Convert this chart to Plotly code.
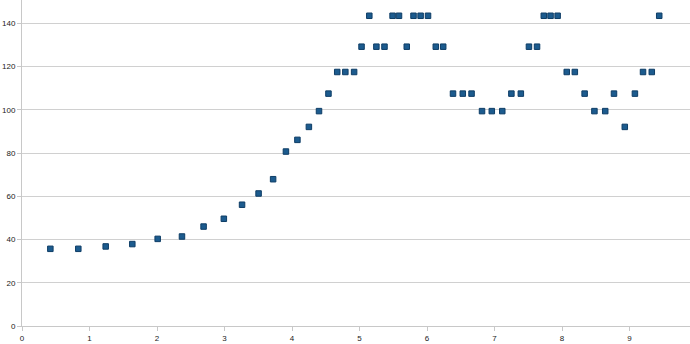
import plotly.graph_objects as go

x_vals = [0.42, 0.834, 1.24, 1.634, 2.01, 2.37, 2.69, 2.99, 3.26, 3.505, 3.72, 3.91, 4.08, 4.25, 4.40,
          4.54, 4.67, 4.79, 4.92, 5.03, 5.145, 5.25, 5.37, 5.49, 5.585, 5.70, 5.80, 5.905, 6.015, 6.13,
          6.24, 6.385, 6.53, 6.66, 6.815, 6.96, 7.115, 7.25, 7.39, 7.51, 7.63, 7.73, 7.83, 7.935, 8.07,
          8.19, 8.335, 8.48, 8.64, 8.77, 8.93, 9.08, 9.20, 9.33, 9.44]
y_vals = [35.7, 35.7, 36.8, 37.9, 40.3, 41.4, 46.0, 49.6, 56.1, 61.3, 67.9, 80.7, 86.1, 92.1, 99.4,
          107.5, 117.5, 117.5, 117.5, 129.2, 143.5, 129.2, 129.2, 143.5, 143.5, 129.2, 143.5, 143.5, 143.5, 129.2,
          129.2, 107.5, 107.5, 107.5, 99.4, 99.4, 99.4, 107.5, 107.5, 129.2, 129.2, 143.5, 143.5, 143.5, 117.5,
          117.5, 107.5, 99.4, 99.4, 107.5, 92.1, 107.5, 117.5, 117.5, 143.5]
x_ticks = [0, 1, 2, 3, 4, 5, 6, 7, 8, 9]
y_ticks = [0, 20, 40, 60, 80, 100, 120, 140]

fig = go.Figure(go.Scatter(
    x=x_vals, y=y_vals, mode="markers",
    marker=dict(symbol="square", size=5.5, color="#1c5b8e",
                line=dict(color="#0e3d66", width=1)),
    showlegend=False,
))

fig.update_layout(
    width=690, height=344,
    margin=dict(l=22, r=0, t=0, b=18),
    paper_bgcolor="white", plot_bgcolor="white",
    font=dict(family="Liberation Sans, Arial, sans-serif", size=8, color="#222222"),
)
fig.update_xaxes(
    range=[0, 9.896], tickvals=x_ticks, ticktext=[str(v) for v in x_ticks],
    showgrid=False, zeroline=False,
    showline=True, linecolor="#c8c8c8", linewidth=1,
    ticks="outside", ticklen=4, tickcolor="#c8c8c8",
    tickfont=dict(size=8, color="#222222"),
)
fig.update_yaxes(
    range=[0, 150.8], tickvals=y_ticks, ticktext=[str(v) for v in y_ticks],
    showgrid=True, gridcolor="#d0d0d0", gridwidth=1, zeroline=False,
    showline=True, linecolor="#c8c8c8", linewidth=1,
    ticks="outside", ticklen=4, tickcolor="#c8c8c8",
    tickfont=dict(size=8, color="#222222"),
)

fig.write_html("out.html")
